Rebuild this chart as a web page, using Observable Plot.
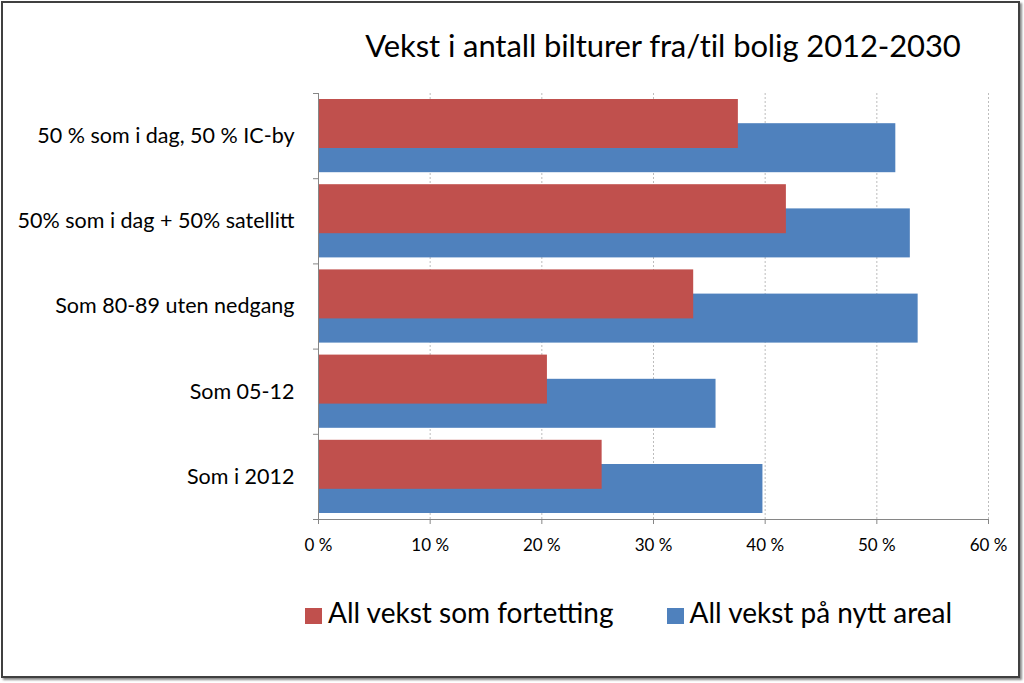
<!DOCTYPE html>
<html>
<head>
<meta charset="utf-8">
<script src="https://cdn.jsdelivr.net/npm/d3@7"></script>
<script src="https://cdn.jsdelivr.net/npm/@observablehq/plot@0.6"></script>
<style>
  html, body { margin: 0; padding: 0; background: #fff; }
  body { width: 1024px; height: 683px; position: relative; overflow: hidden; font-family: Lato, "Open Sans", sans-serif; }
  #frame { position: absolute; left: 1px; top: 1px; width: 1015px; height: 673px; border: 2px solid #404040; box-shadow: 2px 2px 2px #8a8a8a; background: #fff; }
  #title { position: absolute; left: 313px; width: 700px; top: 30px; text-align: center; font-size: 31px; line-height: 1; color: #000; white-space: nowrap; letter-spacing: -0.1px; }
  #chart { position: absolute; left: 0; top: 0; }
  #legend { position: absolute; top: 598px; left: 305px; display: flex; align-items: flex-start; font-size: 28px; line-height: 1; color: #000; white-space: nowrap; }
  .item { display: flex; align-items: flex-start; }
  .sw { width: 17px; height: 16px; margin-right: 6px; margin-top: 10px; }
</style>
</head>
<body>
<div id="frame"></div>
<div id="chart"></div>
<div id="title"></div>
<div id="legend"></div>
<script>
const titleText = "Vekst i antall bilturer fra/til bolig 2012-2030";
const categories = [
  "50 % som i dag, 50 % IC-by",
  "50% som i dag + 50% satellitt",
  "Som 80-89 uten nedgang",
  "Som 05-12",
  "Som i 2012"
];
const seriesNames = ["All vekst som fortetting", "All vekst på nytt areal"];
const seriesColors = ["#c0504d", "#4f81bd"];
const fortetting = [0.376, 0.419, 0.336, 0.205, 0.254];
const nyttAreal = [0.517, 0.530, 0.537, 0.356, 0.398];
const xTicks = [0, 0.1, 0.2, 0.3, 0.4, 0.5, 0.6];
const xTickLabels = ["0 %", "10 %", "20 %", "30 %", "40 %", "50 %", "60 %"];

const rows = categories.map((c, i) => ({category: c, idx: i, fortetting: fortetting[i], nytt: nyttAreal[i]}));
const boundaries = d3.range(categories.length + 1);

document.getElementById("title").textContent = titleText;

const W = 1024, H = 560;
const plot = Plot.plot({
  width: W,
  height: H,
  marginLeft: 318,
  marginRight: 36,
  marginTop: 93,
  marginBottom: 41,
  style: {background: "transparent", fontFamily: "Lato, 'Open Sans', sans-serif", color: "#000", overflow: "visible"},
  x: {domain: [0, 0.6], axis: null, label: null},
  y: {domain: [0, categories.length], reverse: true, axis: null, label: null},
  marks: [
    Plot.ruleX(xTicks.slice(1), {stroke: "#bdbdbd", strokeDasharray: "2,2", strokeWidth: 1}),
    Plot.rectX(rows, {x1: 0, x2: "nytt", y1: "idx", y2: d => d.idx + 1, fill: seriesColors[1], insetTop: 30.2, insetBottom: 6}),
    Plot.rectX(rows, {x1: 0, x2: "fortetting", y1: "idx", y2: d => d.idx + 1, fill: seriesColors[0], insetTop: 6, insetBottom: 30.2}),
    Plot.ruleX([0], {stroke: "#868686"}),
    Plot.ruleY([categories.length], {stroke: "#868686"}),
    Plot.axisY(boundaries, {tickSize: 5, tickFormat: () => "", stroke: "#868686", label: null}),
    Plot.axisX(xTicks, {tickSize: 5, tickPadding: 14, stroke: "#868686", fill: "#000", fontSize: 17, label: null,
      tickFormat: d => xTickLabels[xTicks.indexOf(d)]}),
    Plot.text(rows, {x: 0, y: d => d.idx + 0.5, text: "category", textAnchor: "end", dx: -24, fontSize: 21.5, fill: "#000"})
  ]
});
document.getElementById("chart").appendChild(plot);

const legend = document.getElementById("legend");
seriesNames.forEach((name, i) => {
  const item = document.createElement("div");
  item.className = "item";
  if (i > 0) item.style.marginLeft = "53px";
  const sw = document.createElement("div");
  sw.className = "sw";
  sw.style.background = seriesColors[i];
  const t = document.createElement("span");
  t.textContent = name;
  item.appendChild(sw);
  item.appendChild(t);
  legend.appendChild(item);
});
</script>
</body>
</html>
